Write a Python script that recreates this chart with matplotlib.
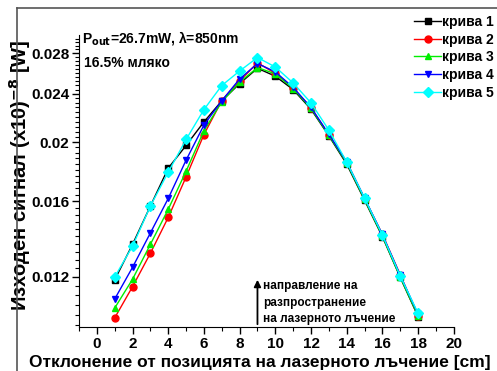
import matplotlib
matplotlib.use('Agg')
import matplotlib.pyplot as plt
import numpy as np
from matplotlib.ticker import FixedLocator, NullFormatter
from matplotlib.lines import Line2D

plt.rcParams['font.family'] = ['Liberation Sans', 'DejaVu Sans']
plt.rcParams['font.weight'] = 'bold'
plt.rcParams['mathtext.default'] = 'bf'

# positions along the beam [cm]
x = [1, 2, 3, 4, 5, 6, 7, 8, 9, 10, 11, 12, 13, 14, 15, 16, 17, 18]

# output signal (x10^-8 W)
curve1 = [0.01187, 0.01358, 0.01570, 0.01812, 0.01975, 0.02159, 0.02338, 0.02496, 0.02645,
          0.02567, 0.02440, 0.02265, 0.02048, 0.01840, 0.01605, 0.01398, 0.01198, 0.01033]
curve2 = [0.01028, 0.01157, 0.01313, 0.01504, 0.01753, 0.02058, 0.02340, 0.02520, 0.02700,
          0.02595, 0.02455, 0.02278, 0.02058, 0.01855, 0.01615, 0.01410, 0.01210, 0.01035]
curve3 = [0.01067, 0.01190, 0.01358, 0.01551, 0.01791, 0.02088, 0.02330, 0.02510, 0.02652,
          0.02590, 0.02450, 0.02272, 0.02052, 0.01848, 0.01610, 0.01402, 0.01200, 0.01035]
curve4 = [0.01104, 0.01245, 0.01418, 0.01616, 0.01868, 0.02133, 0.02340, 0.02540, 0.02693,
          0.02610, 0.02460, 0.02280, 0.02060, 0.01855, 0.01618, 0.01410, 0.01208, 0.01042]
curve5 = [0.01200, 0.01349, 0.01570, 0.01785, 0.02020, 0.02262, 0.02478, 0.02618, 0.02755,
          0.02658, 0.02502, 0.02320, 0.02093, 0.01855, 0.01618, 0.01407, 0.01205, 0.01046]

labels = ['крива 1', 'крива 2', 'крива 3', 'крива 4', 'крива 5']
colors = ['black', 'red', '#00ee00', 'blue', 'cyan']
markers = ['s', 'o', '^', 'v', 'D']

yticks = [0.012, 0.016, 0.02, 0.024, 0.028]
ytick_labels = ['0.012', '0.016', '0.02', '0.024', '0.028']

fig = plt.figure(figsize=(4.97, 3.71), dpi=100)
ax = fig.add_axes([0.159, 0.1186, 0.754, 0.787])

curves = [curve1, curve2, curve3, curve4, curve5]
for y, lab, c, m in zip(curves, labels, colors, markers):
    ms = 5 if m != 'D' else 5.2
    ax.plot(x, y, color=c, marker=m, markersize=ms, linewidth=1.0, label=lab)

ax.set_yscale('log')
ax.set_xlim(-1, 20)
ax.set_ylim(0.00993, 0.0300)
ax.set_xticks(np.arange(0, 21, 2))
ax.set_xticks(np.arange(-1, 20, 2), minor=True)
ax.yaxis.set_major_locator(FixedLocator(yticks))
ax.yaxis.set_minor_locator(FixedLocator(np.arange(0.0100, 0.0300, 0.0004)))
ax.yaxis.set_minor_formatter(NullFormatter())
ax.set_yticklabels(ytick_labels)
ax.tick_params(which='major', direction='out', length=5, width=1, labelsize=11, pad=2)
ax.tick_params(which='minor', direction='out', length=3, width=0.8)
for lbl in ax.get_xticklabels() + ax.get_yticklabels():
    lbl.set_fontweight('bold')

ax.spines['top'].set_visible(False)
ax.spines['right'].set_visible(False)

ax.set_xlabel('Отклонение от позицията на лазерното лъчение [cm]', fontsize=12.5,
              fontweight='bold')
ax.xaxis.set_label_coords((260 - 79) / 375, -0.095)
ax.set_ylabel(r'Изходен сигнал (x10)$^{-8}$ [W]', fontsize=14.5, fontweight='bold')
ax.yaxis.set_label_coords(-0.123, 0.52)

ax.text(0.008, 1.02, r'P$_{\mathbf{out}}$=26.7mW, λ=850nm', transform=ax.transAxes,
        fontsize=10, fontweight='bold', va='top', ha='left')
ax.text(0.013, 0.928, '16.5% мляко', transform=ax.transAxes,
        fontsize=10, fontweight='bold', va='top', ha='left')

# propagation direction arrow
ax.annotate('', xy=(9, 0.01200), xytext=(9, 0.00993),
            arrowprops=dict(arrowstyle='-|>', color='black', lw=1.3, mutation_scale=10))
ax.text(9.3, 0.01185, 'направление на\nразпространение\nна лазерното лъчение',
        fontsize=8.5, fontweight='bold', va='top', ha='left', linespacing=1.5)

leg = fig.legend(loc='upper right', bbox_to_anchor=(1.005, 0.975), frameon=False,
                 fontsize=10, handlelength=1.9, handletextpad=0.1, labelspacing=0.27,
                 borderaxespad=0)
for t in leg.get_texts():
    t.set_fontweight('bold')

# page frame
fig.add_artist(Line2D([17 / 497, 1], [1 - 8 / 371, 1 - 8 / 371], color='#555555', lw=1.2))
fig.add_artist(Line2D([17 / 497, 17 / 497], [0, 1 - 8 / 371], color='#555555', lw=1.2))

fig.savefig('out.png', dpi=100)
